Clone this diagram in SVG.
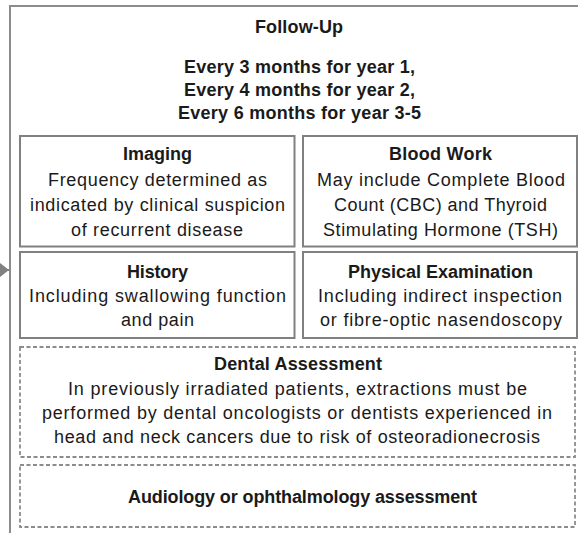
<svg xmlns="http://www.w3.org/2000/svg" width="578" height="533" viewBox="0 0 578 533">
<defs>
<style>
.bg{fill:#ffffff}
.outer{fill:#ffffff;stroke:#8c8c8c;stroke-width:2}
.box{fill:#ffffff;stroke:#808080;stroke-width:2}
.dbox{fill:#ffffff;stroke:#8c8c8c;stroke-width:1.8;stroke-dasharray:4 2.5}
text{font-family:"Liberation Sans",Arial,sans-serif;font-size:18px;fill:#1a1a1a}
.b{font-weight:bold}
.conn{fill:none;stroke:#808080;stroke-width:2}
</style>
<marker id="arr" markerWidth="10" markerHeight="14" refX="9" refY="7" orient="auto" markerUnits="userSpaceOnUse">
<polygon points="0,0 9,7 0,14" fill="#808080"/>
</marker>
</defs>
<rect class="bg" x="0" y="0" width="578" height="533"/>
<g id="follow-up">
<rect class="outer" x="10" y="6" width="620" height="580"/>
<text class="b" x="255" y="33" textLength="88">Follow-Up</text>
<text class="b" x="184" y="73" textLength="231">Every 3 months for year 1,</text>
<text class="b" x="184" y="96" textLength="231">Every 4 months for year 2,</text>
<text class="b" x="178" y="119" textLength="243">Every 6 months for year 3-5</text>
</g>
<g id="imaging">
<rect class="box" x="20" y="136" width="274.5" height="110.5"/>
<text class="b" x="123" y="160" textLength="69">Imaging</text>
<text x="48" y="186" textLength="219">Frequency determined as</text>
<text x="30" y="211" textLength="255">indicated by clinical suspicion</text>
<text x="71" y="236" textLength="172">of recurrent disease</text>
</g>
<g id="blood-work">
<rect class="box" x="303" y="136" width="274" height="110.5"/>
<text class="b" x="389" y="160" textLength="103">Blood Work</text>
<text x="317" y="186" textLength="248">May include Complete Blood</text>
<text x="334" y="211" textLength="213">Count (CBC) and Thyroid</text>
<text x="323" y="236" textLength="235">Stimulating Hormone (TSH)</text>
</g>
<g id="history">
<rect class="box" x="20" y="252" width="274.5" height="86"/>
<text class="b" x="127" y="278" textLength="61">History</text>
<text x="29" y="302" textLength="257">Including swallowing function</text>
<text x="121" y="326" textLength="73">and pain</text>
</g>
<g id="physical-examination">
<rect class="box" x="303" y="252" width="274" height="86"/>
<text class="b" x="348" y="278" textLength="185">Physical Examination</text>
<text x="318" y="302" textLength="244">Including indirect inspection</text>
<text x="320" y="326" textLength="242">or fibre-optic nasendoscopy</text>
</g>
<g id="dental-assessment">
<rect class="dbox" x="20" y="347" width="555" height="110"/>
<text class="b" x="214" y="370" textLength="168">Dental Assessment</text>
<text x="68" y="395" textLength="459">In previously irradiated patients, extractions must be</text>
<text x="42" y="419" textLength="510">performed by dental oncologists or dentists experienced in</text>
<text x="54" y="443" textLength="486">head and neck cancers due to risk of osteoradionecrosis</text>
</g>
<g id="audiology">
<rect class="dbox" x="20" y="465" width="555" height="62"/>
<text class="b" x="128" y="503" textLength="349">Audiology or ophthalmology assessment</text>
</g>
<g id="connectors">
<path class="conn" d="M-40,270 L9,270" marker-end="url(#arr)"/>
</g>
</svg>
